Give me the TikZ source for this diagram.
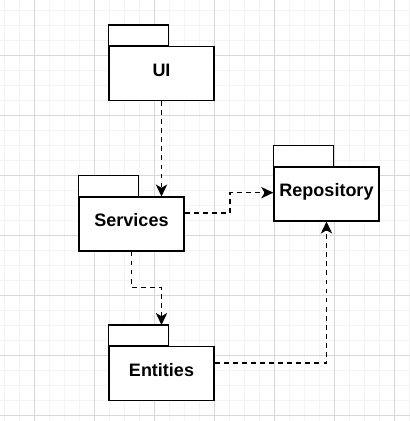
\documentclass[tikz,border=0pt]{standalone}
\usepackage{fontspec}
\setmainfont{Liberation Sans}
\usetikzlibrary{arrows.meta}
\definecolor{gridminor}{HTML}{F4F4F4}
\definecolor{gridmajor}{HTML}{D8D8D8}
\tikzset{
  minorline/.style={draw=gridminor,line width=0.75pt},
  majorline/.style={draw=gridmajor,line width=0.75pt},
  pkgline/.style={draw=black,line width=1.1pt,fill=white},
  pkg/.style={pkgline,rectangle,inner sep=0pt,minimum width=78.75pt,minimum height=40.2pt,
    font=\fontsize{13.5}{16}\selectfont\bfseries,text height=0.72em,text depth=0.28em},
  dep/.style={draw=black,line width=1.2pt,dash pattern=on 3.6pt off 3.2pt,
    -{Stealth[length=9pt,width=8.5pt,inset=2.5pt]}},
}
\begin{document}
\begin{tikzpicture}[x=0.75pt,y=-0.75pt]
\useasboundingbox (0,0) rectangle (410,421);
\fill[white] (0,0) rectangle (410,421);
\foreach \i in {0,...,27} {
  \draw[minorline] ({4+15*\i},0) -- ({4+15*\i},421);
  \draw[minorline] (0,{10+15*\i}) -- (410,{10+15*\i});
}
\foreach \i in {0,...,6} {
  \draw[majorline] ({34+60*\i},0) -- ({34+60*\i},421);
  \draw[majorline] (0,{55+60*\i}) -- (410,{55+60*\i});
}
% packages
\node[pkg] (ui) at (161.5,73.5) {UI};
\draw[pkgline] (ui.north west) rectangle ++(60,-21);
\node[pkg] (services) at (131.5,224) {Services};
\draw[pkgline] (services.north west) rectangle ++(60,-21);
\node[pkg] (repo) at (326.5,194) {Repository};
\draw[pkgline] (repo.north west) rectangle ++(60,-21);
\node[pkg] (entities) at (161.5,373.5) {Entities};
\draw[pkgline] (entities.north west) rectangle ++(60,-21);
\coordinate (entitiestab) at ([yshift=15.75pt]entities.north);
% dependencies
\draw[dep] (ui.south) -- (ui.south |- services.north);
\draw[dep] ([yshift=8.25pt]services.east) -- ++(45,0) |- ([yshift=1pt]repo.west);
\draw[dep] (services.south) -- ++(0,36) -| (entitiestab);
\draw[dep] ([yshift=7.9pt]entities.east) -| (repo.south);
\end{tikzpicture}
\end{document}
